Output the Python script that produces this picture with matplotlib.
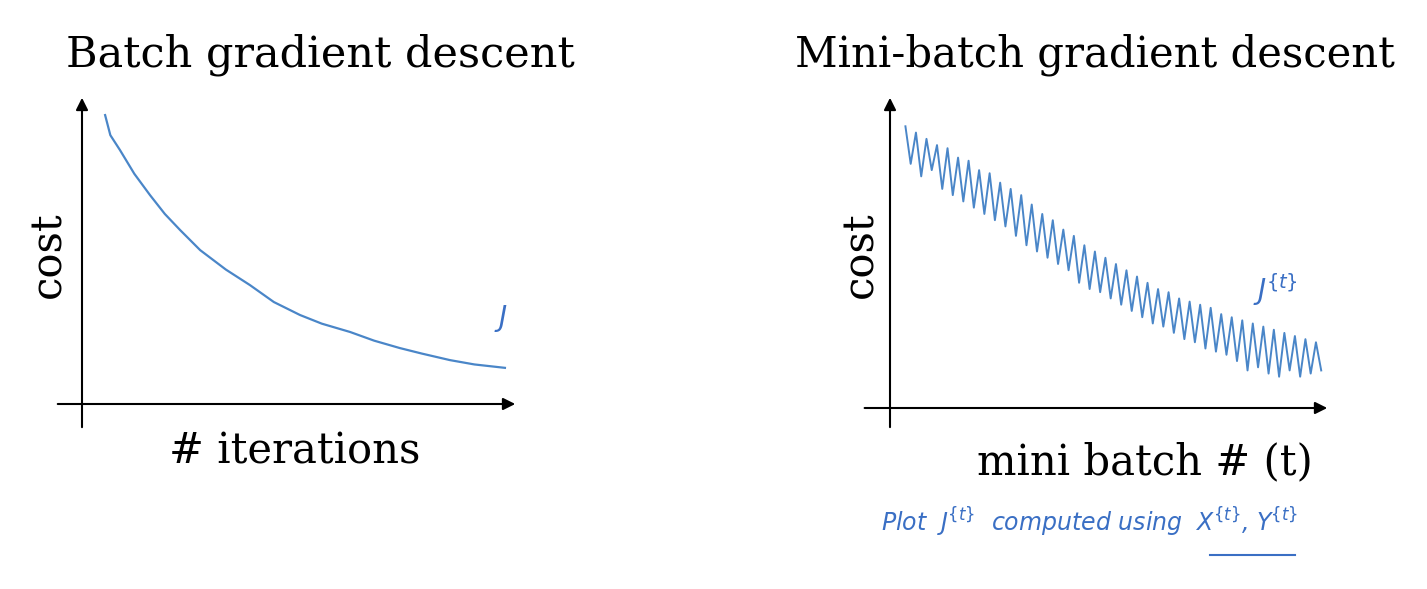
import numpy as np
import matplotlib.pyplot as plt

W, H = 1427, 589
# Batch gradient descent cost curve (iterations %, cost %)
batch_x = [5.3, 6.5, 8.7, 12.0, 15.6, 19.0, 22.5, 27.1, 33.0, 38.5, 44.0, 50.0, 55.0, 61.5, 67.0, 72.9, 78.0, 84.4, 90.0, 97.0]
batch_y = [93.5, 87.0, 82.2, 74.5, 67.6, 61.5, 56.3, 49.8, 43.5, 38.5, 33.0, 28.8, 26.0, 23.3, 20.5, 18.1, 16.3, 14.2, 12.8, 11.7]
# Mini-batch noisy cost per mini batch t
mini_t = np.arange(1, 81)
mini_cost = [90,78,88,74,86,76,84,70,83,68,80,66,79,64,76,62,75,60,72,58,
             70,55,68,52,65,50,62,48,60,46,57,44,55,40,52,38,50,37,48,35,
             46,33,44,31,42,29,40,27,38,26,37,24,35,22,34,21,33,19,32,18,
             30,17,29,15,28,12,27,13,26,11,25,10,24,12,23,10,22,11,21,12]

line_c = '#4a86c8'
ink = '#3a6fc4'
fig = plt.figure(figsize=(W/100, H/100), dpi=100)
serif = 'DejaVu Serif'

def make_axes(x0, y0, x1, y1):
    ax = fig.add_axes([x0/W, 1-y0/H, (x1-x0)/W, (y0-y1)/H])
    ax.axis('off')
    return ax

def draw_axes(ax, ext_x, ext_y):
    ax.annotate('', xy=(1, 0), xytext=(-ext_x, 0), xycoords='axes fraction',
                arrowprops=dict(arrowstyle='-|>', color='black', lw=1.5, mutation_scale=18))
    ax.annotate('', xy=(0, 1), xytext=(0, -ext_y), xycoords='axes fraction',
                arrowprops=dict(arrowstyle='-|>', color='black', lw=1.5, mutation_scale=18))

axL = make_axes(82, 404, 518, 95)
axL.set_xlim(0, 100); axL.set_ylim(0, 100)
draw_axes(axL, 0.062, 0.084)
axL.plot(batch_x, batch_y, color=line_c, lw=1.6)

axR = make_axes(890, 408, 1330, 95)
axR.set_xlim(-1.93, 81.67); axR.set_ylim(0, 100)
draw_axes(axR, 0.064, 0.07)
axR.plot(mini_t, mini_cost, color=line_c, lw=1.4)

def t(x, y, s, **kw):
    fig.text(x/W, 1-y/H, s, ha='center', va='center', **kw)

t(320, 55, 'Batch gradient descent', fontsize=31, family=serif)
t(1095, 55, 'Mini-batch gradient descent', fontsize=30, family=serif)
t(48, 255, 'cost', fontsize=30, family=serif, rotation=90)
t(860, 255, 'cost', fontsize=30, family=serif, rotation=90)
t(295, 452, '# iterations', fontsize=30, family=serif)
t(1145, 462, 'mini batch # (t)', fontsize=30, family=serif)
t(503, 318, 'J', fontsize=20, color=ink, style='italic')
t(1275, 290, r'J$^{\{t\}}$', fontsize=20, color=ink, style='italic')
t(1090, 522, r'Plot  J$^{\{t\}}$  computed using  X$^{\{t\}}$, Y$^{\{t\}}$',
  fontsize=17, color=ink, style='italic')
fig.add_artist(plt.Line2D([1210/W, 1295/W], [1-555/H, 1-555/H], color=ink, lw=1.5))

fig.savefig('out.png', dpi=100)
